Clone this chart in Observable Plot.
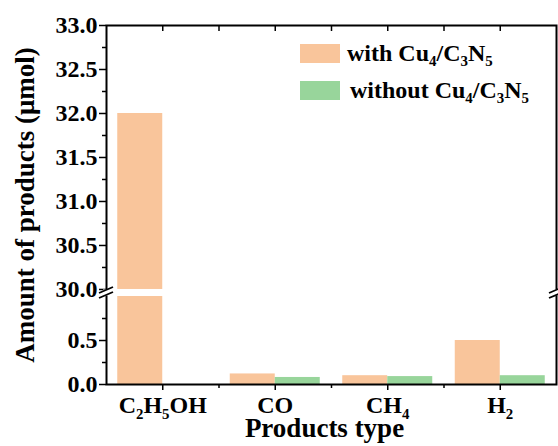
<!DOCTYPE html>
<html>
<head>
<meta charset="utf-8">
<script src="https://cdn.jsdelivr.net/npm/d3@7"></script>
<script src="https://cdn.jsdelivr.net/npm/@observablehq/plot@0.6"></script>
<style>
  html, body { margin: 0; padding: 0; background: #fff; }
  #chart { position: relative; width: 558px; height: 446px; }
  #chart svg text { font-family: "Liberation Serif", "Times New Roman", serif; font-weight: bold; }
  .legend { position: absolute; left: 300px; top: 44px; font-family: "Liberation Serif", "Times New Roman", serif; font-weight: bold; font-size: 24px; color: #000; }
  .legend .row { display: flex; align-items: center; height: 19px; margin-bottom: 18px; white-space: nowrap; }
  .legend .sw { width: 40px; height: 19px; margin-right: 7px; flex: none; }
  .legend .row + .row .sw { margin-right: 10px; }
  .legend sub { font-size: 0.62em; vertical-align: -0.35em; line-height: 0; }
</style>
</head>
<body>
<div id="chart"></div>
<script>
// Product amounts (μmol) for each product type
const categories = ["C2H5OH", "CO", "CH4", "H2"];
const withCatalyst = [32.0, 0.12, 0.10, 0.50];
const withoutCatalyst = [0.0, 0.08, 0.09, 0.10];
const seriesNames = ["with Cu4/C3N5", "without Cu4/C3N5"];
const seriesColors = ["#f9c59b", "#98d59b"];

// Broken y axis: a lower band 0–1 and an upper band 30–33
const lowerTicks = [0.0, 0.5];
const upperTicks = [30.0, 30.5, 31.0, 31.5, 32.0, 32.5, 33.0];
const lowerMax = 1.0, upperMin = 30.0, upperMax = 33.0, breakGap = 0.08;

const disp = v => v <= lowerMax ? v : lowerMax + breakGap + (v - upperMin);
const undisp = d => d <= lowerMax ? d : d - lowerMax - breakGap + upperMin;

// Split bars that cross the break into two pieces
const barW = 0.4;
const series = [withCatalyst, withoutCatalyst];
const segments = [];
series.forEach((vals, s) => {
  vals.forEach((v, i) => {
    const base = {i, s, name: seriesNames[s]};
    if (v > lowerMax) {
      segments.push({...base, y1: 0, y2: lowerMax});
      segments.push({...base, y1: disp(upperMin), y2: disp(v)});
    } else {
      segments.push({...base, y1: 0, y2: v});
    }
  });
});

const majorY = [...lowerTicks, ...upperTicks].map(disp);
const minorY = [];
lowerTicks.forEach(t => minorY.push(t + 0.25));
upperTicks.slice(0, -1).forEach(t => minorY.push(disp(t + 0.25)));
const catIdx = categories.map((_, i) => i);
const midIdx = catIdx.slice(0, -1).map(i => i + 0.5);
const topIdx = d3.range(0, categories.length - 0.99, 0.5);

const plot = Plot.plot({
  width: 558,
  height: 446,
  marginLeft: 106,
  marginRight: 2,
  marginTop: 25,
  marginBottom: 62,
  x: {domain: [-0.5, categories.length - 0.5]},
  y: {domain: [0, disp(upperMax)]},
  color: {type: "ordinal", domain: seriesNames, range: seriesColors},
  marks: [
    Plot.rectY(segments, {
      x1: d => d.i + (d.s === 0 ? -barW : 0),
      x2: d => d.i + (d.s === 0 ? 0 : barW),
      y1: "y1",
      y2: "y2",
      fill: "name"
    }),
    Plot.frame({stroke: "black", strokeWidth: 2}),
    Plot.axisY({ticks: majorY, tickSize: 7, tickPadding: 2, strokeWidth: 1.5, fontSize: 24,
      tickFormat: d => undisp(d).toFixed(1), label: null}),
    Plot.axisY({ticks: minorY, tickSize: 4, strokeWidth: 1.5, tickFormat: () => "", label: null}),
    Plot.axisX({anchor: "bottom", ticks: catIdx, tickSize: 6, tickPadding: 5, strokeWidth: 1.5,
      fontSize: 24, tickFormat: i => categories[i], label: null}),
    Plot.axisX({anchor: "bottom", ticks: midIdx, tickSize: 4, strokeWidth: 1.5,
      tickFormat: () => "", label: null}),
    Plot.axisX({anchor: "top", ticks: topIdx, tickSize: 5, dy: 5, strokeWidth: 1.5,
      tickFormat: () => "", label: null}),
    Plot.text(["Products type"], {frameAnchor: "bottom", dy: 52, dx: -7, fontSize: 27}),
    Plot.text(["Amount of products (μmol)"], {frameAnchor: "left", textAnchor: "middle",
      rotate: -90, dx: -81, fontSize: 27})
  ]
});

// Chemical formulas: render digits as subscripts
function subscriptText(el) {
  const str = el.textContent;
  el.textContent = "";
  let shifted = false;
  for (const part of str.match(/\d+|\D+/g) || []) {
    const t = document.createElementNS("http://www.w3.org/2000/svg", "tspan");
    t.textContent = part;
    const isNum = /\d/.test(part);
    if (isNum) { t.setAttribute("font-size", "0.62em"); t.setAttribute("dy", shifted ? 0 : "0.45em"); shifted = true; }
    else if (shifted) { t.setAttribute("dy", "-0.28em"); shifted = false; }
    el.appendChild(t);
  }
}
d3.select(plot).selectAll("text").each(function() {
  if (categories.includes(this.textContent)) subscriptText(this);
});

// Axis break marks on the left and right edges of the frame
const ys = plot.scale("y"), xs = plot.scale("x");
const yLow = ys.apply(lowerMax), yHigh = ys.apply(disp(upperMin));
const xEdges = [xs.apply(-0.5), xs.apply(categories.length - 0.5)];
const g = d3.select(plot).append("g");
for (const xe of xEdges) {
  g.append("rect").attr("x", xe - 3).attr("y", yHigh + 0.5).attr("width", 6)
    .attr("height", yLow - yHigh - 1).attr("fill", "white");
  for (const yc of [yHigh + 1, yLow - 1]) {
    g.append("line").attr("x1", xe - 7).attr("y1", yc + 3).attr("x2", xe + 7).attr("y2", yc - 3)
      .attr("stroke", "black").attr("stroke-width", 1.8);
  }
}

const chart = document.getElementById("chart");
chart.appendChild(plot);

// Legend inside the plot area
const legend = document.createElement("div");
legend.className = "legend";
seriesNames.forEach((name, s) => {
  const row = document.createElement("div");
  row.className = "row";
  const sw = document.createElement("div");
  sw.className = "sw";
  sw.style.background = seriesColors[s];
  const label = document.createElement("span");
  label.innerHTML = name.replace(/(\d)/g, "<sub>$1</sub>");
  row.appendChild(sw);
  row.appendChild(label);
  legend.appendChild(row);
});
chart.appendChild(legend);
</script>
</body>
</html>
